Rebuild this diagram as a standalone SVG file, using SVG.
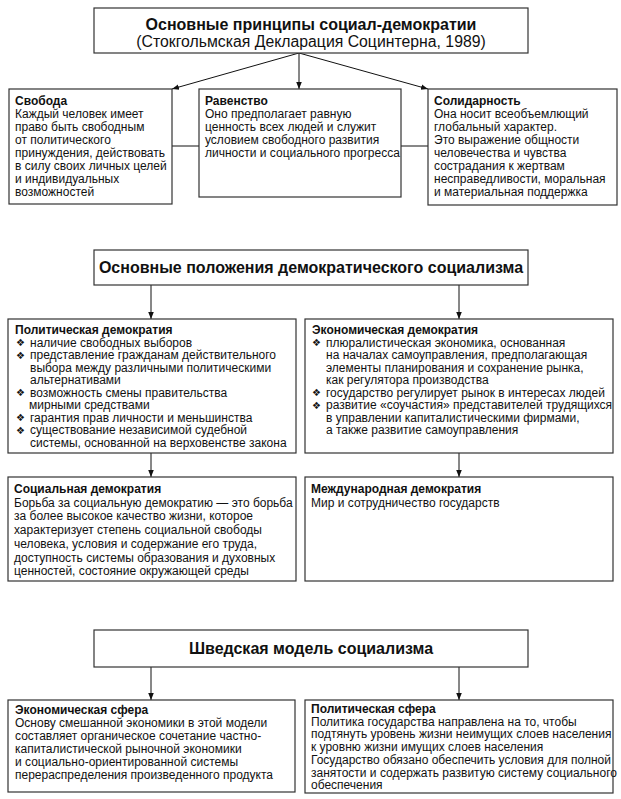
<svg xmlns="http://www.w3.org/2000/svg" width="621" height="799" viewBox="0 0 621 799">
<style>
.box{fill:#fff;stroke:#333;stroke-width:1.2}
text{font-family:"Liberation Sans",Arial,sans-serif;font-size:12px;fill:#111}
.h{font-weight:bold;font-size:16px}
.s{font-size:15.8px}
.b{font-weight:bold}
.bl{font-family:"DejaVu Sans",sans-serif;font-size:10px}
.c{stroke:#111;stroke-width:1;fill:none}
</style>
<defs>
<marker id="ar" viewBox="0 0 10 10" refX="10" refY="5" markerWidth="7" markerHeight="7" orient="auto" markerUnits="userSpaceOnUse">
<path d="M0,1 L10,5 L0,9 z" fill="#111"/>
</marker>
</defs>
<g id="connectors">
<line class="c" x1="299" y1="53" x2="172" y2="89" marker-end="url(#ar)"/>
<line class="c" x1="299" y1="53" x2="299" y2="89" marker-end="url(#ar)"/>
<line class="c" x1="299" y1="53" x2="428" y2="89" marker-end="url(#ar)"/>
<line class="c" x1="172" y1="146" x2="199" y2="146"/>
<line class="c" x1="401" y1="146" x2="428" y2="146"/>
<line class="c" x1="151" y1="285" x2="151" y2="319" marker-end="url(#ar)"/>
<line class="c" x1="459" y1="285" x2="459" y2="319" marker-end="url(#ar)"/>
<line class="c" x1="151" y1="453" x2="151" y2="477" marker-end="url(#ar)"/>
<line class="c" x1="459" y1="453" x2="459" y2="477" marker-end="url(#ar)"/>
<line class="c" x1="151" y1="667" x2="151" y2="700" marker-end="url(#ar)"/>
<line class="c" x1="459" y1="667" x2="459" y2="700" marker-end="url(#ar)"/>
</g>
<g id="principles">
<rect class="box" x="94" y="8" width="434" height="45"/>
<text class="h" x="311" y="30" text-anchor="middle">Основные принципы социал-демократии</text>
<text class="s" x="311" y="47" text-anchor="middle">(Стокгольмская Декларация Социнтерна, 1989)</text>
</g>
<g id="svoboda">
<rect class="box" x="9" y="89" width="163" height="115"/>
<text x="15" y="105"><tspan class="b">Свобода</tspan><tspan x="15" dy="13">Каждый человек имеет</tspan><tspan x="15" dy="13">право быть свободным</tspan><tspan x="15" dy="13">от политического</tspan><tspan x="15" dy="13">принуждения, действовать</tspan><tspan x="15" dy="13">в силу своих личных целей</tspan><tspan x="15" dy="13">и индивидуальных</tspan><tspan x="15" dy="13">возможностей</tspan></text>
</g>
<g id="ravenstvo">
<rect class="box" x="199" y="89" width="202" height="108"/>
<text x="205" y="105"><tspan class="b">Равенство</tspan><tspan x="205" dy="13">Оно предполагает равную</tspan><tspan x="205" dy="13">ценность всех людей и служит</tspan><tspan x="205" dy="13">условием свободного развития</tspan><tspan x="205" dy="13">личности и социального прогресса</tspan></text>
</g>
<g id="solidarnost">
<rect class="box" x="428" y="89" width="189" height="116"/>
<text x="434" y="105"><tspan class="b">Солидарность</tspan><tspan x="434" dy="13">Она носит всеобъемлющий</tspan><tspan x="434" dy="13">глобальный характер.</tspan><tspan x="434" dy="13">Это выражение общности</tspan><tspan x="434" dy="13">человечества и чувства</tspan><tspan x="434" dy="13">сострадания к жертвам</tspan><tspan x="434" dy="13">несправедливости, моральная</tspan><tspan x="434" dy="13">и материальная поддержка</tspan></text>
</g>
<g id="polozheniya">
<rect class="box" x="94" y="250" width="434" height="35"/>
<text class="h" x="311" y="273" text-anchor="middle">Основные положения демократического социализма</text>
</g>
<g id="polit-dem">
<rect class="box" x="8" y="319" width="288" height="134"/>
<text class="b" x="15" y="334">Политическая демократия</text>
<g class="bl"><text class="bl" x="16" y="346">❖</text><text class="bl" x="16" y="358.5">❖</text><text class="bl" x="16" y="396">❖</text><text class="bl" x="16" y="421">❖</text><text class="bl" x="16" y="433.5">❖</text></g>
<text x="30" y="346.5"><tspan>наличие свободных выборов</tspan><tspan x="30" dy="12.5">представление гражданам действительного</tspan><tspan x="30" dy="12.5">выбора между различными политическими</tspan><tspan x="30" dy="12.5">альтернативами</tspan><tspan x="30" dy="12.5">возможность смены правительства</tspan><tspan x="29" dy="12.5">мирными средствами</tspan><tspan x="30" dy="12.5">гарантия прав личности и меньшинства</tspan><tspan x="30" dy="12.5">существование независимой судебной</tspan><tspan x="30" dy="12.5">системы, основанной на верховенстве закона</tspan></text>
</g>
<g id="econ-dem">
<rect class="box" x="305" y="319" width="308" height="134"/>
<text class="b" x="312" y="334">Экономическая демократия</text>
<text class="bl" x="312" y="346">❖</text><text class="bl" x="312" y="396">❖</text><text class="bl" x="312" y="408.5">❖</text>
<text x="326" y="346.5"><tspan>плюралистическая экономика, основанная</tspan><tspan x="326" dy="12.5">на началах самоуправления, предполагающая</tspan><tspan x="326" dy="12.5">элементы планирования и сохранение рынка,</tspan><tspan x="326" dy="12.5">как регулятора производства</tspan><tspan x="326" dy="12.5">государство регулирует рынок в  интересах людей</tspan><tspan x="326" dy="12.5">развитие «соучастия» представителей трудящихся</tspan><tspan x="326" dy="12.5">в управлении капиталистическими фирмами,</tspan><tspan x="326" dy="12.5">а также развитие самоуправления</tspan></text>
</g>
<g id="social-dem">
<rect class="box" x="8" y="477" width="288" height="104"/>
<text x="14" y="493"><tspan class="b">Социальная демократия</tspan><tspan x="14" dy="13.7">Борьба за социальную демократию — это борьба</tspan><tspan x="14" dy="13.7">за более высокое качество жизни, которое</tspan><tspan x="14" dy="13.7">характеризует степень социальной свободы</tspan><tspan x="14" dy="13.7">человека, условия и содержание его труда,</tspan><tspan x="14" dy="13.7">доступность системы образования и духовных</tspan><tspan x="14" dy="13.7">ценностей, состояние окружающей среды</tspan></text>
</g>
<g id="intl-dem">
<rect class="box" x="305" y="477" width="308" height="104"/>
<text x="311" y="493"><tspan class="b">Международная демократия</tspan><tspan x="311" dy="13.7">Мир и сотрудничество государств</tspan></text>
</g>
<g id="swedish">
<rect class="box" x="94" y="630" width="434" height="37"/>
<text class="h" x="311" y="654" text-anchor="middle">Шведская модель социализма</text>
</g>
<g id="econ-sphere">
<rect class="box" x="8" y="700" width="287" height="92"/>
<text x="15" y="714"><tspan class="b">Экономическая сфера</tspan><tspan x="15" dy="13">Основу смешанной экономики в этой модели</tspan><tspan x="15" dy="13">составляет органическое сочетание частно-</tspan><tspan x="15" dy="13">капиталистической рыночной экономики</tspan><tspan x="15" dy="13">и социально-ориентированной системы</tspan><tspan x="15" dy="13">перераспределения произведенного продукта</tspan></text>
</g>
<g id="polit-sphere">
<rect class="box" x="305" y="700" width="308" height="93"/>
<text x="311" y="713"><tspan class="b">Политическая сфера</tspan><tspan x="311" dy="12.7">Политика государства направлена на то, чтобы</tspan><tspan x="311" dy="12.7">подтянуть уровень жизни неимущих слоев населения</tspan><tspan x="311" dy="12.7">к уровню жизни имущих слоев населения</tspan><tspan x="311" dy="12.7">Государство обязано обеспечить условия для полной</tspan><tspan x="311" dy="12.7">занятости и содержать развитую систему социального</tspan><tspan x="311" dy="12.7">обеспечения</tspan></text>
</g>
</svg>
